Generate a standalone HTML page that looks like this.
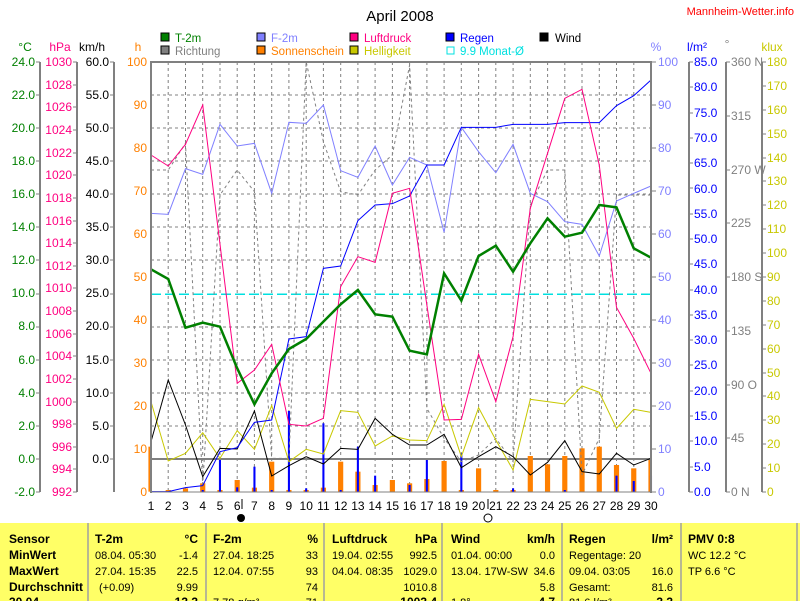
<!DOCTYPE html>
<html><head><meta charset="utf-8"><style>
html,body{margin:0;padding:0;background:#fff;}
svg{display:block;font-family:"Liberation Sans",sans-serif;}
</style></head><body>
<svg width="800" height="601" viewBox="0 0 800 601" xmlns="http://www.w3.org/2000/svg">
<rect width="800" height="601" fill="#fff"/>
<text x="400" y="21" font-size="15" text-anchor="middle">April 2008</text>
<text x="794" y="15" font-size="11" text-anchor="end" fill="#ff0000">Mannheim-Wetter.info</text>

<g font-size="11.5">
<rect x="161" y="33" width="8" height="8" fill="#008000" stroke="#000"/><text x="175" y="42" fill="#008000">T-2m</text>
<rect x="257" y="33" width="8" height="8" fill="#8080ff" stroke="#000"/><text x="271" y="42" fill="#8080ff">F-2m</text>
<rect x="350" y="33" width="8" height="8" fill="#ff0080" stroke="#000"/><text x="364" y="42" fill="#ff0080">Luftdruck</text>
<rect x="446" y="33" width="8" height="8" fill="#0000ff" stroke="#000"/><text x="460" y="42" fill="#0000ff">Regen</text>
<rect x="540" y="33" width="8" height="8" fill="#000" stroke="#000"/><text x="555" y="42" fill="#000">Wind</text>
<rect x="161" y="46" width="8" height="8" fill="#808080" stroke="#000"/><text x="175" y="55" fill="#808080">Richtung</text>
<rect x="257" y="46" width="8" height="8" fill="#ff8000" stroke="#000"/><text x="271" y="55" fill="#ff8000">Sonnenschein</text>
<rect x="350" y="46" width="8" height="8" fill="#c8c800" stroke="#000"/><text x="364" y="55" fill="#c8c800">Helligkeit</text>
<rect x="447" y="47" width="7" height="7" fill="none" stroke="#00e0e0"/><text x="460" y="55" fill="#00e0e0">9.9 Monat-Ø</text>
</g>

<g font-size="12">
<text x="25" y="51" fill="#008000" text-anchor="middle">°C</text>
<text x="60" y="51" fill="#ff0080" text-anchor="middle">hPa</text>
<text x="92" y="51" fill="#000" text-anchor="middle">km/h</text>
<text x="138" y="51" fill="#ff8000" text-anchor="middle">h</text>
<text x="656" y="51" fill="#8080ff" text-anchor="middle">%</text>
<text x="697" y="51" fill="#0000ff" text-anchor="middle">l/m²</text>
<text x="727" y="48" fill="#808080" text-anchor="middle">°</text>
<text x="772" y="51" fill="#c8c800" text-anchor="middle">klux</text>
</g>

<g stroke="#808080" stroke-width="2">
<line x1="40" y1="62" x2="40" y2="492"/>
<line x1="77" y1="62" x2="77" y2="492"/>
<line x1="114" y1="62" x2="114" y2="492"/>
<line x1="689" y1="62" x2="689" y2="492"/>
<line x1="726" y1="62" x2="726" y2="492"/>
<line x1="762" y1="62" x2="762" y2="492"/>
</g>

<g font-size="12" fill="#008000" text-anchor="end">
<text x="35" y="66">24.0</text><text x="35" y="99">22.0</text><text x="35" y="132">20.0</text><text x="35" y="165">18.0</text><text x="35" y="198">16.0</text><text x="35" y="231">14.0</text><text x="35" y="264">12.0</text><text x="35" y="297">10.0</text><text x="35" y="330">8.0</text><text x="35" y="364">6.0</text><text x="35" y="397">4.0</text><text x="35" y="430">2.0</text><text x="35" y="463">0.0</text><text x="35" y="496">-2.0</text>
</g>
<g stroke="#808080"><path d="M36 62h4M36 95h4M36 128h4M36 161h4M36 194h4M36 227h4M36 260h4M36 294h4M36 327h4M36 360h4M36 393h4M36 426h4M36 459h4M36 492h4"/></g>
<g font-size="12" fill="#ff0080" text-anchor="end">
<text x="72" y="66">1030</text><text x="72" y="89">1028</text><text x="72" y="111">1026</text><text x="72" y="134">1024</text><text x="72" y="157">1022</text><text x="72" y="179">1020</text><text x="72" y="202">1018</text><text x="72" y="225">1016</text><text x="72" y="247">1014</text><text x="72" y="270">1012</text><text x="72" y="292">1010</text><text x="72" y="315">1008</text><text x="72" y="338">1006</text><text x="72" y="360">1004</text><text x="72" y="383">1002</text><text x="72" y="406">1000</text><text x="72" y="428">998</text><text x="72" y="451">996</text><text x="72" y="473">994</text><text x="72" y="496">992</text>
</g>
<g stroke="#808080"><path d="M73 62h4M73 85h4M73 107h4M73 130h4M73 153h4M73 175h4M73 198h4M73 221h4M73 243h4M73 266h4M73 288h4M73 311h4M73 334h4M73 356h4M73 379h4M73 402h4M73 424h4M73 447h4M73 469h4M73 492h4"/></g>
<g font-size="12" fill="#000" text-anchor="end">
<text x="109" y="66">60.0</text><text x="109" y="99">55.0</text><text x="109" y="132">50.0</text><text x="109" y="165">45.0</text><text x="109" y="198">40.0</text><text x="109" y="231">35.0</text><text x="109" y="264">30.0</text><text x="109" y="297">25.0</text><text x="109" y="330">20.0</text><text x="109" y="364">15.0</text><text x="109" y="397">10.0</text><text x="109" y="430">5.0</text><text x="109" y="463">0.0</text>
</g>
<g stroke="#808080"><path d="M110 62h4M110 95h4M110 128h4M110 161h4M110 194h4M110 227h4M110 260h4M110 294h4M110 327h4M110 360h4M110 393h4M110 426h4M110 459h4"/></g>
<g font-size="12" fill="#ff8000" text-anchor="end">
<text x="147" y="66">100</text><text x="147" y="109">90</text><text x="147" y="152">80</text><text x="147" y="195">70</text><text x="147" y="238">60</text><text x="147" y="281">50</text><text x="147" y="324">40</text><text x="147" y="367">30</text><text x="147" y="410">20</text><text x="147" y="453">10</text><text x="147" y="496">0</text>
</g>

<g font-size="12" fill="#8080ff">
<text x="658" y="66">100</text><text x="658" y="109">90</text><text x="658" y="152">80</text><text x="658" y="195">70</text><text x="658" y="238">60</text><text x="658" y="281">50</text><text x="658" y="324">40</text><text x="658" y="367">30</text><text x="658" y="410">20</text><text x="658" y="453">10</text><text x="658" y="496">0</text>
</g>
<g stroke="#808080"><path d="M651 62h5M651 105h5M651 148h5M651 191h5M651 234h5M651 277h5M651 320h5M651 363h5M651 406h5M651 449h5M651 492h5"/></g>
<g font-size="12" fill="#0000ff">
<text x="694" y="66">85.0</text><text x="694" y="91">80.0</text><text x="694" y="117">75.0</text><text x="694" y="142">70.0</text><text x="694" y="167">65.0</text><text x="694" y="193">60.0</text><text x="694" y="218">55.0</text><text x="694" y="243">50.0</text><text x="694" y="268">45.0</text><text x="694" y="294">40.0</text><text x="694" y="319">35.0</text><text x="694" y="344">30.0</text><text x="694" y="369">25.0</text><text x="694" y="395">20.0</text><text x="694" y="420">15.0</text><text x="694" y="445">10.0</text><text x="694" y="471">5.0</text><text x="694" y="496">0.0</text>
</g>
<g stroke="#808080"><path d="M689 62h4M689 87h4M689 113h4M689 138h4M689 163h4M689 188h4M689 214h4M689 239h4M689 264h4M689 290h4M689 315h4M689 340h4M689 365h4M689 391h4M689 416h4M689 441h4M689 467h4M689 492h4"/></g>
<g font-size="12" fill="#808080">
<text x="731" y="66">360 N</text><text x="731" y="120">315</text><text x="731" y="174">270 W</text><text x="731" y="227">225</text><text x="731" y="281">180 S</text><text x="731" y="335">135</text><text x="731" y="389">90 O</text><text x="731" y="442">45</text><text x="731" y="496">0 N</text>
</g>
<g stroke="#808080"><path d="M726 62h4M726 116h4M726 170h4M726 223h4M726 277h4M726 331h4M726 385h4M726 438h4M726 492h4"/></g>
<g font-size="12" fill="#c8c800">
<text x="767" y="66">180</text><text x="767" y="90">170</text><text x="767" y="114">160</text><text x="767" y="138">150</text><text x="767" y="162">140</text><text x="767" y="185">130</text><text x="767" y="209">120</text><text x="767" y="233">110</text><text x="767" y="257">100</text><text x="767" y="281">90</text><text x="767" y="305">80</text><text x="767" y="329">70</text><text x="767" y="353">60</text><text x="767" y="377">50</text><text x="767" y="400">40</text><text x="767" y="424">30</text><text x="767" y="448">20</text><text x="767" y="472">10</text><text x="767" y="496">0</text>
</g>
<g stroke="#808080"><path d="M762 62h4M762 86h4M762 110h4M762 134h4M762 158h4M762 181h4M762 205h4M762 229h4M762 253h4M762 277h4M762 301h4M762 325h4M762 349h4M762 373h4M762 396h4M762 420h4M762 444h4M762 468h4M762 492h4"/></g>

<g stroke="#808080" stroke-width="1" stroke-dasharray="3,3">
<path d="M168.2 62V492M185.5 62V492M202.7 62V492M220 62V492M237.2 62V492M254.4 62V492M271.7 62V492M288.9 62V492M306.2 62V492M323.4 62V492M340.7 62V492M357.9 62V492M375.1 62V492M392.4 62V492M409.6 62V492M426.9 62V492M444.1 62V492M461.3 62V492M478.6 62V492M495.8 62V492M513.1 62V492M530.3 62V492M547.6 62V492M564.8 62V492M582 62V492M599.3 62V492M616.5 62V492M633.8 62V492"/>
<path d="M151 95H651M151 128H651M151 161H651M151 194H651M151 227H651M151 260H651M151 327H651M151 360H651M151 393H651M151 426H651"/>
</g>
<line x1="151" y1="294.3" x2="651" y2="294.3" stroke="#00e0e0" stroke-width="1.5" stroke-dasharray="10,4"/>
<line x1="151" y1="459" x2="651" y2="459" stroke="#808080" stroke-width="2"/>

<g transform="translate(133.759,55) scale(17.241,0.33333)">
<g fill="#ff8000">
<rect x="0.85" y="1175" width="0.15" height="135"/>
<rect x="1.85" y="1305" width="0.3" height="5"/><rect x="2.85" y="1300" width="0.3" height="10"/><rect x="3.85" y="1285" width="0.3" height="25"/><rect x="4.85" y="1305" width="0.3" height="5"/><rect x="5.85" y="1275" width="0.3" height="35"/><rect x="6.85" y="1298" width="0.3" height="12"/><rect x="7.85" y="1220" width="0.3" height="90"/><rect x="8.85" y="1305" width="0.3" height="5"/><rect x="9.85" y="1305" width="0.3" height="5"/><rect x="10.85" y="1298" width="0.3" height="12"/><rect x="11.85" y="1220" width="0.3" height="90"/><rect x="12.85" y="1250" width="0.3" height="60"/><rect x="13.85" y="1290" width="0.3" height="20"/><rect x="14.85" y="1275" width="0.3" height="35"/><rect x="15.85" y="1285" width="0.3" height="25"/><rect x="16.85" y="1272" width="0.3" height="38"/><rect x="17.85" y="1218" width="0.3" height="92"/><rect x="18.85" y="1305" width="0.3" height="5"/><rect x="19.85" y="1240" width="0.3" height="70"/><rect x="20.85" y="1305" width="0.3" height="5"/><rect x="21.85" y="1305" width="0.3" height="5"/><rect x="22.85" y="1203" width="0.3" height="107"/><rect x="23.85" y="1228" width="0.3" height="82"/><rect x="24.85" y="1203" width="0.3" height="107"/><rect x="25.85" y="1180" width="0.3" height="130"/><rect x="26.85" y="1175" width="0.3" height="135"/><rect x="27.85" y="1230" width="0.3" height="80"/><rect x="28.85" y="1240" width="0.3" height="70"/><rect x="29.85" y="1215" width="0.15" height="95"/>
</g>
<g fill="#0000ff">
<rect x="3.94" y="1305" width="0.12" height="5"/><rect x="4.94" y="1215" width="0.12" height="95"/><rect x="5.94" y="1297" width="0.12" height="13"/><rect x="6.94" y="1235" width="0.12" height="75"/><rect x="7.94" y="1305" width="0.12" height="5"/><rect x="8.94" y="1068" width="0.12" height="242"/><rect x="9.94" y="1300" width="0.12" height="10"/><rect x="10.94" y="1105" width="0.12" height="205"/><rect x="11.94" y="1305" width="0.12" height="5"/><rect x="12.94" y="1175" width="0.12" height="135"/><rect x="13.94" y="1262" width="0.12" height="48"/><rect x="15.94" y="1290" width="0.12" height="20"/><rect x="16.94" y="1215" width="0.12" height="95"/><rect x="18.94" y="1195" width="0.12" height="115"/><rect x="21.94" y="1300" width="0.12" height="10"/><rect x="24.94" y="1305" width="0.12" height="5"/><rect x="27.94" y="1262" width="0.12" height="48"/><rect x="28.94" y="1278" width="0.12" height="32"/><rect x="29.94" y="1262" width="0.12" height="48"/>
</g>
<g fill="none">
<polyline vector-effect="non-scaling-stroke" stroke="#808080" stroke-width="1" stroke-dasharray="3,3" points="1,345 2,345 3,265 4,1290 5,420 6,345 7,410 8,1210 9,1210 10,20 11,260 12,410 13,420 14,345 15,300 16,30 17,1060 18,1150 19,1220 20,1200 21,1150 22,1220 23,450 24,345 25,345 26,1260 27,1150 28,420 29,420 30,420"/>
<polyline vector-effect="non-scaling-stroke" stroke="#c8c800" stroke-width="1" points="1,1040 2,1218 3,1195 4,1133 5,1210 6,1127 7,1183 8,1052 9,1220 10,1183 11,1197 12,1067 13,1072 14,1173 15,1143 16,1155 17,1157 18,1048 19,1205 20,1058 21,1155 22,1245 23,1033 24,1040 25,1047 26,993 27,1012 28,1120 29,1063 30,1072"/>
<polyline vector-effect="non-scaling-stroke" stroke="#000" stroke-width="1" points="1,1160 2,975 3,1110 4,1265 5,1180 6,1182 7,1068 8,1263 9,1232 10,1205 11,1227 12,1180 13,1183 14,1090 15,1138 16,1170 17,1170 18,1138 19,1238 20,1205 21,1175 22,1205 23,1260 24,1222 25,1157 26,1250 27,1257 28,1195 29,1230 30,1210"/>
<polyline vector-effect="non-scaling-stroke" stroke="#8080ff" stroke-width="1" points="1,475 2,478 3,341 4,358 5,208 6,273 7,265 8,415 9,202 10,205 11,150 12,347 13,367 14,273 15,390 16,307 17,330 18,532 19,217 20,290 21,353 22,268 23,415 24,440 25,500 26,508 27,603 28,438 29,415 30,393"/>
<polyline vector-effect="non-scaling-stroke" stroke="#0000ff" stroke-width="1" points="1,1310 2,1310 3,1298 4,1292 5,1190 6,1178 7,1102 8,1095 9,852 10,845 11,640 12,633 13,497 14,450 15,446 16,423 17,330 18,330 19,217 20,217 21,217 22,208 23,208 24,208 25,203 26,203 27,203 28,152 29,122 30,75"/>
<polyline vector-effect="non-scaling-stroke" stroke="#ff0080" stroke-width="1" points="1,300 2,333 3,268 4,150 5,567 6,985 7,945 8,868 9,1108 10,1113 11,1090 12,695 13,605 14,622 15,415 16,400 17,750 18,1095 19,1093 20,898 21,1040 22,845 23,460 24,295 25,130 26,103 27,330 28,757 29,850 30,955"/>
<polyline vector-effect="non-scaling-stroke" stroke="#008000" stroke-width="2.5" points="1,643 2,672 3,818 4,803 5,815 6,940 7,1048 8,955 9,882 10,852 11,800 12,748 13,705 14,778 15,785 16,887 17,898 18,655 19,737 20,603 21,572 22,650 23,565 24,490 25,545 26,533 27,450 28,457 29,580 30,608"/>
</g>
</g>

<g stroke="#808080" stroke-width="2" fill="none">
<line x1="151" y1="62" x2="651" y2="62"/>
<line x1="151" y1="61" x2="151" y2="493"/>
<line x1="651" y1="61" x2="651" y2="493"/>
<line x1="151" y1="492" x2="651" y2="492" stroke-width="1"/>
</g>

<g font-size="12" text-anchor="middle" fill="#000">
<text x="151" y="510">1</text><text x="168.2" y="510">2</text><text x="185.5" y="510">3</text><text x="202.7" y="510">4</text><text x="220" y="510">5</text><text x="237.2" y="510">6</text><text x="254.4" y="510">7</text><text x="271.7" y="510">8</text><text x="288.9" y="510">9</text><text x="306.2" y="510">10</text><text x="323.4" y="510">11</text><text x="340.7" y="510">12</text><text x="357.9" y="510">13</text><text x="375.1" y="510">14</text><text x="392.4" y="510">15</text><text x="409.6" y="510">16</text><text x="426.9" y="510">17</text><text x="444.1" y="510">18</text><text x="461.3" y="510">19</text><text x="478.6" y="510">20</text><text x="495.8" y="510">21</text><text x="513.1" y="510">22</text><text x="530.3" y="510">23</text><text x="547.6" y="510">24</text><text x="564.8" y="510">25</text><text x="582" y="510">26</text><text x="599.3" y="510">27</text><text x="616.5" y="510">28</text><text x="633.8" y="510">29</text><text x="651" y="510">30</text>
</g>
<line x1="242" y1="499" x2="242" y2="509" stroke="#000"/>
<line x1="488" y1="499" x2="488" y2="509" stroke="#000"/>
<circle cx="241" cy="518" r="4" fill="#000"/>
<circle cx="488" cy="518" r="4" fill="#fff" stroke="#000"/>

<rect x="0" y="523" width="800" height="78" fill="#ffff66"/>
<g stroke="#a0a0a0" stroke-width="1.5">
<line x1="88" y1="523" x2="88" y2="601"/><line x1="206" y1="523" x2="206" y2="601"/><line x1="324" y1="523" x2="324" y2="601"/><line x1="442" y1="523" x2="442" y2="601"/><line x1="562" y1="523" x2="562" y2="601"/><line x1="681" y1="523" x2="681" y2="601"/><line x1="797" y1="523" x2="797" y2="601"/>
</g>
<g font-size="11" fill="#000">
<g font-weight="bold" font-size="12">
<text x="9" y="543">Sensor</text><text x="9" y="559">MinWert</text><text x="9" y="575">MaxWert</text><text x="9" y="591">Durchschnitt</text><text x="9" y="606">30.04.</text>
<text x="95" y="543">T-2m</text><text x="198" y="543" text-anchor="end">°C</text>
<text x="213" y="543">F-2m</text><text x="318" y="543" text-anchor="end">%</text>
<text x="332" y="543">Luftdruck</text><text x="437" y="543" text-anchor="end">hPa</text>
<text x="451" y="543">Wind</text><text x="555" y="543" text-anchor="end">km/h</text>
<text x="569" y="543">Regen</text><text x="673" y="543" text-anchor="end">l/m²</text>
<text x="688" y="543">PMV 0:8</text>
<text x="198" y="606" text-anchor="end">13.3</text><text x="437" y="606" text-anchor="end">1003.4</text><text x="555" y="606" text-anchor="end">4.7</text><text x="673" y="606" text-anchor="end">3.3</text>
</g>
<text x="95" y="559">08.04.  05:30</text><text x="198" y="559" text-anchor="end">-1.4</text>
<text x="213" y="559">27.04.  18:25</text><text x="318" y="559" text-anchor="end">33</text>
<text x="332" y="559">19.04.  02:55</text><text x="437" y="559" text-anchor="end">992.5</text>
<text x="451" y="559">01.04.  00:00</text><text x="555" y="559" text-anchor="end">0.0</text>
<text x="569" y="559">Regentage: 20</text>
<text x="688" y="559">WC 12.2 °C</text>
<text x="95" y="575">27.04.  15:35</text><text x="198" y="575" text-anchor="end">22.5</text>
<text x="213" y="575">12.04.  07:55</text><text x="318" y="575" text-anchor="end">93</text>
<text x="332" y="575">04.04.  08:35</text><text x="437" y="575" text-anchor="end">1029.0</text>
<text x="451" y="575" textLength="77" lengthAdjust="spacingAndGlyphs">13.04.  17W-SW</text><text x="555" y="575" text-anchor="end">34.6</text>
<text x="569" y="575">09.04.  03:05</text><text x="673" y="575" text-anchor="end">16.0</text>
<text x="688" y="575">TP 6.6 °C</text>
<text x="99" y="591">(+0.09)</text><text x="198" y="591" text-anchor="end">9.99</text>
<text x="318" y="591" text-anchor="end">74</text>
<text x="437" y="591" text-anchor="end">1010.8</text>
<text x="555" y="591" text-anchor="end">5.8</text>
<text x="569" y="591">Gesamt:</text><text x="673" y="591" text-anchor="end">81.6</text>
<text x="213" y="606">7.78 g/m³</text><text x="318" y="606" text-anchor="end">71</text>
<text x="451" y="606">1.8°</text><text x="569" y="606">81.6 l/m²</text>
</g>
</svg>
</body></html>
